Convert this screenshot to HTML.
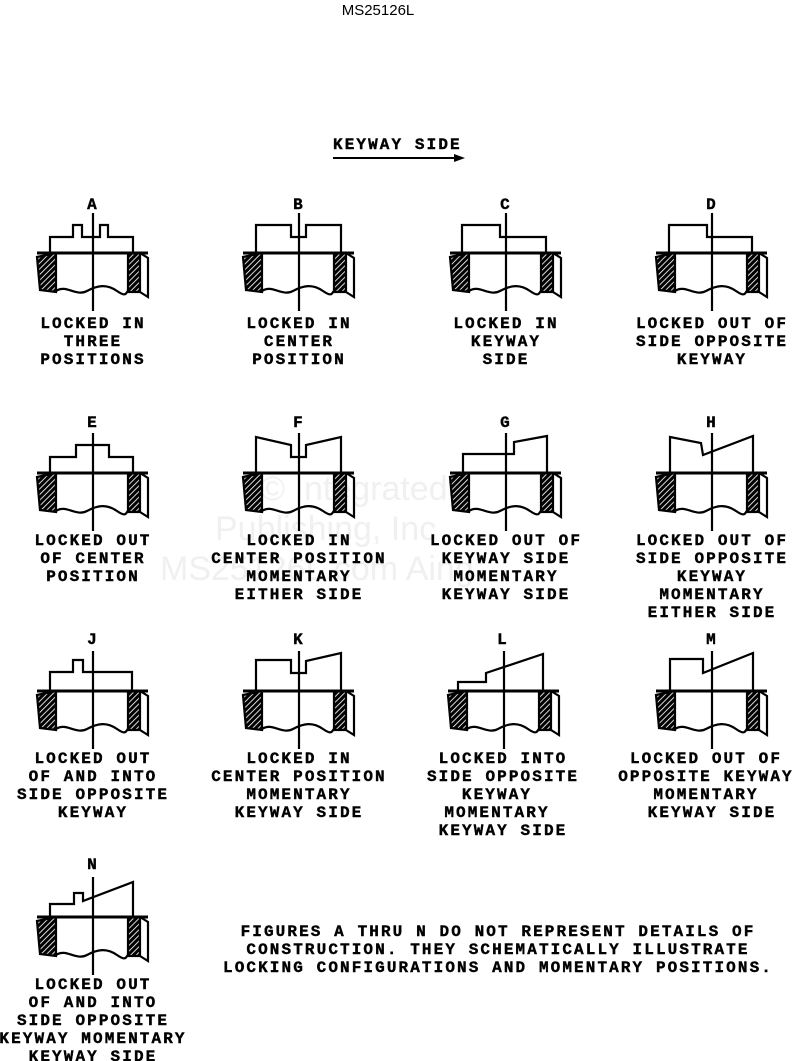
<!DOCTYPE html>
<html><head><meta charset="utf-8"><style>
html,body{margin:0;padding:0;background:#fff;width:793px;height:1061px;overflow:hidden}
svg{display:block}
.t{font-family:"Liberation Mono",monospace;font-weight:bold;font-size:16px;letter-spacing:2.1px;fill:#000;stroke:#000;stroke-width:0.4}
.w{font-family:"Liberation Sans",sans-serif;font-size:34px;fill:#f0f0f0}
</style></head><body>
<svg width="793" height="1061" viewBox="0 0 793 1061" xmlns="http://www.w3.org/2000/svg">
<defs>
<pattern id="h" width="4" height="4" patternUnits="userSpaceOnUse" patternTransform="rotate(45)">
<rect width="4" height="4" fill="#000"/><line x1="0" y1="0" x2="0" y2="4" stroke="#fff" stroke-width="1.7"/>
</pattern>
<g id="base" fill="none" stroke="#000" stroke-width="2.2">
<polygon points="-56,257 -37,253 -37,292 -53,290" fill="url(#h)"/>
<rect x="35" y="253" width="12" height="39" fill="url(#h)"/>
<path d="M47,253 L55,258 V297 L47,292"/>
<line x1="-56" y1="253" x2="55" y2="253" stroke-width="3"/>
<path d="M-37,291 C-27,284 -17,297 -6,291 S14,284 24,291 S33,292 35,291"/>
<line x1="0" y1="213" x2="0" y2="311"/>
</g>
</defs>
<text x="378" y="15" font-family="Liberation Sans,sans-serif" font-size="15" text-anchor="middle">MS25126L</text>
<text class="t" x="333" y="149">KEYWAY SIDE</text>
<line x1="333" y1="158" x2="455" y2="158" stroke="#000" stroke-width="2"/>
<polygon points="454,154 465,158 454,162" fill="#000"/>
<text class="w" x="260" y="500">© Integrated</text>
<text class="w" x="215" y="540">Publishing, Inc</text>
<text class="w" x="160" y="580">MS25126L.com Aing</text>
<g fill="none" stroke="#000" stroke-width="2.2">
<g transform="translate(93,0)"><use href="#base"/><path d="M-43,253 V237 H-20 V225 H-11 V237 H7 V225 H15 V237 H40 V253"/></g>
<g transform="translate(299,0)"><use href="#base"/><path d="M-43,253 V225 H-8 V237 H7 V225 H42 V253"/></g>
<g transform="translate(506,0)"><use href="#base"/><path d="M-44,253 V225 H-6 V237 H40 V253"/></g>
<g transform="translate(712,0)"><use href="#base"/><path d="M-43,253 V225 H-5 V237 H40 V253"/></g>
<g transform="translate(93,220)"><use href="#base"/><path d="M-43,253 V237 H-17 V225 H16 V237 H40 V253"/></g>
<g transform="translate(299,220)"><use href="#base"/><path d="M-43,253 V217 L-8,225 V237 H7 V225 L42,217 V253"/></g>
<g transform="translate(506,220)"><use href="#base"/><path d="M-43,253 V234 H8 V222 L41,216 V253"/></g>
<g transform="translate(712,220)"><use href="#base"/><path d="M-42,253 V217 L-11,223 L-9,235 L41,216 V253"/></g>
<g transform="translate(93,438)"><use href="#base"/><path d="M-43,253 V234 H-20 V222 H-10 V234 H39 V253"/></g>
<g transform="translate(299,438)"><use href="#base"/><path d="M-43,253 V222 H-8 V235 H7 V223 L42,215 V253"/></g>
<g transform="translate(504,438)"><use href="#base"/><path d="M-46,253 V244 H-18 V235 L39,216 V253"/></g>
<g transform="translate(712,438)"><use href="#base"/><path d="M-42,253 V221 H-9 V235 L41,215 V253"/></g>
<g transform="translate(93,664)"><use href="#base"/><path d="M-43,253 V240 H-19 V229 H-10 V237 L40,218 V253"/></g>
</g>
<g class="t" text-anchor="middle">
<text x="93" y="209">A</text><text x="299" y="209">B</text><text x="506" y="209">C</text><text x="712" y="209">D</text>
<text x="93" y="427">E</text><text x="299" y="427">F</text><text x="506" y="427">G</text><text x="712" y="427">H</text>
<text x="93" y="644">J</text><text x="299" y="644">K</text><text x="503" y="644">L</text><text x="712" y="644">M</text>
<text x="93" y="869">N</text>

<text x="93" y="328">LOCKED IN</text><text x="93" y="346">THREE</text><text x="93" y="364">POSITIONS</text>
<text x="299" y="328">LOCKED IN</text><text x="299" y="346">CENTER</text><text x="299" y="364">POSITION</text>
<text x="506" y="328">LOCKED IN</text><text x="506" y="346">KEYWAY</text><text x="506" y="364">SIDE</text>
<text x="712" y="328">LOCKED OUT OF</text><text x="712" y="346">SIDE OPPOSITE</text><text x="712" y="364">KEYWAY</text>

<text x="93" y="545">LOCKED OUT</text><text x="93" y="563">OF CENTER</text><text x="93" y="581">POSITION</text>
<text x="299" y="545">LOCKED IN</text><text x="299" y="563">CENTER POSITION</text><text x="299" y="581">MOMENTARY</text><text x="299" y="599">EITHER SIDE</text>
<text x="506" y="545">LOCKED OUT OF</text><text x="506" y="563">KEYWAY SIDE</text><text x="506" y="581">MOMENTARY</text><text x="506" y="599">KEYWAY SIDE</text>
<text x="712" y="545">LOCKED OUT OF</text><text x="712" y="563">SIDE OPPOSITE</text><text x="712" y="581">KEYWAY</text><text x="712" y="599">MOMENTARY</text><text x="712" y="617">EITHER SIDE</text>

<text x="93" y="763">LOCKED OUT</text><text x="93" y="781">OF AND INTO</text><text x="93" y="799">SIDE OPPOSITE</text><text x="93" y="817">KEYWAY</text>
<text x="299" y="763">LOCKED IN</text><text x="299" y="781">CENTER POSITION</text><text x="299" y="799">MOMENTARY</text><text x="299" y="817">KEYWAY SIDE</text>
<text x="503" y="763">LOCKED INTO</text><text x="503" y="781">SIDE OPPOSITE</text><text x="497" y="799">KEYWAY</text><text x="497" y="817">MOMENTARY</text><text x="503" y="835">KEYWAY SIDE</text>
<text x="706" y="763">LOCKED OUT OF</text><text x="706" y="781">OPPOSITE KEYWAY</text><text x="706" y="799">MOMENTARY</text><text x="712" y="817">KEYWAY SIDE</text>

<text x="93" y="989">LOCKED OUT</text><text x="93" y="1007">OF AND INTO</text><text x="93" y="1025">SIDE OPPOSITE</text><text x="93" y="1043">KEYWAY MOMENTARY</text><text x="93" y="1061">KEYWAY SIDE</text>

<text x="498" y="936">FIGURES A THRU N DO NOT REPRESENT DETAILS OF</text>
<text x="498" y="954">CONSTRUCTION. THEY SCHEMATICALLY ILLUSTRATE</text>
<text x="498" y="972">LOCKING CONFIGURATIONS AND MOMENTARY POSITIONS.</text>
</g>
</svg>
</body></html>
